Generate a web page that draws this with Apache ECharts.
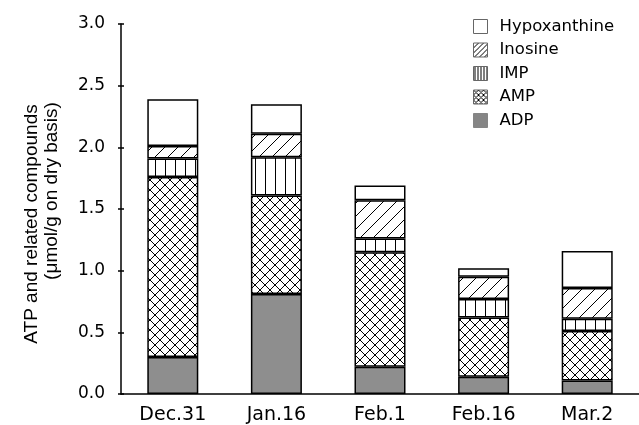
<!DOCTYPE html>
<html><head><meta charset="utf-8">
<script src="https://cdn.jsdelivr.net/npm/echarts@6/dist/echarts.min.js"></script>
<style>html,body{margin:0;padding:0;background:#fff}#c{width:639px;height:425px}</style>
</head><body><div id="c"></div>
<script>
var categories = ['Dec.31', 'Jan.16', 'Feb.1', 'Feb.16', 'Mar.2'];
var ADP = [0.30, 0.81, 0.22, 0.14, 0.11];
var AMP = [1.46, 0.80, 0.93, 0.48, 0.40];
var IMP = [0.15, 0.31, 0.11, 0.15, 0.10];
var Inosine = [0.10, 0.19, 0.31, 0.18, 0.25];
var Hypoxanthine = [0.38, 0.24, 0.12, 0.07, 0.30];
var yTicks = [0, 0.5, 1.0, 1.5, 2.0, 2.5, 3.0];
var legendOrder = ['Hypoxanthine', 'Inosine', 'IMP', 'AMP', 'ADP'];

function makePattern(kind, s) {
  var c = document.createElement('canvas');
  c.width = s; c.height = s;
  var g = c.getContext('2d');
  g.fillStyle = '#fff'; g.fillRect(0, 0, s, s);
  g.strokeStyle = '#000'; g.lineWidth = 1;
  g.beginPath();
  if (kind === 'cross') {
    g.moveTo(-1, -1); g.lineTo(s + 1, s + 1);
    g.moveTo(-1, s + 1); g.lineTo(s + 1, -1);
  } else if (kind === 'vert') {
    g.moveTo(Math.floor(s / 2) + 0.5, 0); g.lineTo(Math.floor(s / 2) + 0.5, s);
  } else if (kind === 'diag') {
    g.moveTo(-1, s + 1); g.lineTo(s + 1, -1);
    g.moveTo(-1, 1); g.lineTo(1, -1);
    g.moveTo(s - 1, s + 1); g.lineTo(s + 1, s - 1);
  }
  g.stroke();
  return { image: c, repeat: 'repeat' };
}

var fontH = 'DejaVu Sans, sans-serif';
var fontV = 'Liberation Sans, Arial, sans-serif';
var fills = {
  ADP: '#8e8e8e',
  AMP: makePattern('cross', 10),
  IMP: makePattern('vert', 10),
  Inosine: makePattern('diag', 13),
  Hypoxanthine: '#fff'
};
var legendFills = {
  ADP: '#858585',
  AMP: makePattern('cross', 5),
  IMP: makePattern('vert', 3),
  Inosine: makePattern('diag', 5),
  Hypoxanthine: '#fff'
};
function bar(name, data) {
  return {
    name: name, type: 'bar', stack: 'a', data: data, barWidth: 51,
    itemStyle: { color: fills[name], borderColor: '#000', borderWidth: 1.5 },
    emphasis: { disabled: true }
  };
}

var chart = echarts.init(document.getElementById('c'), null, { renderer: 'canvas' });
chart.setOption({
  animation: false,
  backgroundColor: '#fff',
  grid: { left: 121, right: -12, top: 24, bottom: 29 },
  legend: {
    orient: 'vertical', left: 468, top: 13,
    itemWidth: 14, itemHeight: 14, itemGap: 6.5, icon: 'rect',
    data: legendOrder.map(function (n) {
      return { name: n, itemStyle: { color: legendFills[n], borderColor: n === 'ADP' ? '#858585' : '#666', borderWidth: 1 } };
    }),
    textStyle: { fontFamily: fontH, fontSize: 16.5, color: '#000', padding: [0, 0, 0, 7] }
  },
  xAxis: {
    type: 'category', data: categories,
    axisLine: { lineStyle: { color: '#000', width: 1.5 } },
    axisTick: { show: false },
    axisLabel: { fontFamily: fontH, fontSize: 19, color: '#000', margin: 12 }
  },
  yAxis: [{
    type: 'value', min: yTicks[0], max: yTicks[yTicks.length - 1], interval: 0.5,
    name: 'ATP and related compounds',
    nameLocation: 'middle', nameGap: 80, nameRotate: 90,
    nameTextStyle: { fontFamily: fontV, fontSize: 19, color: '#000', padding: [0, 30, 0, 0] },
    axisLine: { show: true, lineStyle: { color: '#000', width: 1.5 } },
    axisTick: { show: true, length: 3, lineStyle: { color: '#000', width: 1.5 } },
    splitLine: { show: false },
    axisLabel: { fontFamily: fontH, fontSize: 17, color: '#000', margin: 16,
      formatter: function (v) { return v.toFixed(1); } }
  }, {
    type: 'value', min: yTicks[0], max: yTicks[yTicks.length - 1], interval: 0.5,
    position: 'left',
    name: '(μmol/g on dry basis)',
    nameLocation: 'middle', nameGap: 60, nameRotate: 90,
    nameTextStyle: { fontFamily: fontV, fontSize: 19, color: '#000', padding: [0, 0, 0, 36] },
    axisLine: { show: false },
    axisTick: { show: true, inside: true, length: 3, lineStyle: { color: '#000', width: 1.5 } },
    axisLabel: { show: false }, splitLine: { show: false }
  }],
  series: [
    bar('ADP', ADP),
    bar('AMP', AMP),
    bar('IMP', IMP),
    bar('Inosine', Inosine),
    bar('Hypoxanthine', Hypoxanthine)
  ]
});
</script></body></html>
